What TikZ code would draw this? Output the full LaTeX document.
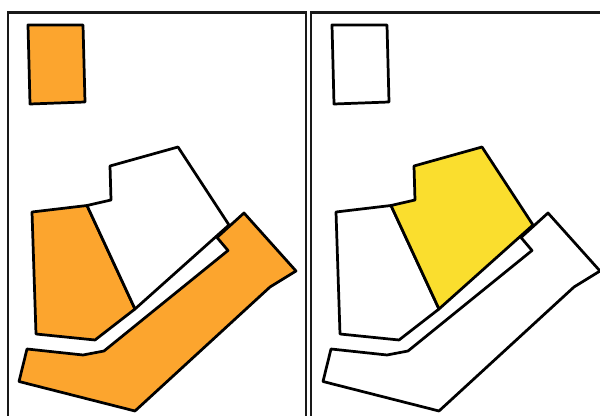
\documentclass[tikz,border=0pt]{standalone}
\tikzset{
  px/.style={x=0.75pt,y=-0.75pt},
  frameline/.style={draw=black!90,line width=1.6pt},
  lot/.style={draw=black,line width=2.05pt,line join=round},
}
\definecolor{orangefill}{RGB}{252,165,46}
\definecolor{yellowfill}{RGB}{250,222,46}
\newcommand{\panel}[5]{%
  \begin{scope}[shift={(#1,0)}]
    \draw[lot,fill=#2] (28,25) -- (83,25) -- (85,102) -- (30,104) -- cycle;
    \draw[lot,fill=#3] (32,212) -- (87,205.5) -- (135,309) -- (95,340) -- (36,334) -- cycle;
    \draw[lot,fill=#4] (87,205.5) -- (111,200) -- (110,166) -- (178,147) -- (229,225) -- (135,309) -- cycle;
    \draw[lot,fill=#5] (27,349) -- (83,355) -- (104,351) -- (228,250.5) -- (217,237.5) -- (244,213) -- (296,271) -- (270,287) -- (135,411) -- (19,381.5) -- cycle;
  \end{scope}}
\begin{document}
\begin{tikzpicture}[px]
\useasboundingbox (0,0) rectangle (600,416);
\fill[white] (0,0) rectangle (600,416);
\draw[frameline] (8,420) -- (8,12.5) -- (305.7,12.5) -- (305.7,420);
\draw[frameline] (311,420) -- (311,12.5) -- (604,12.5);
\panel{0}{orangefill}{orangefill}{white}{orangefill}
\panel{304}{white}{white}{yellowfill}{white}
\end{tikzpicture}
\end{document}
